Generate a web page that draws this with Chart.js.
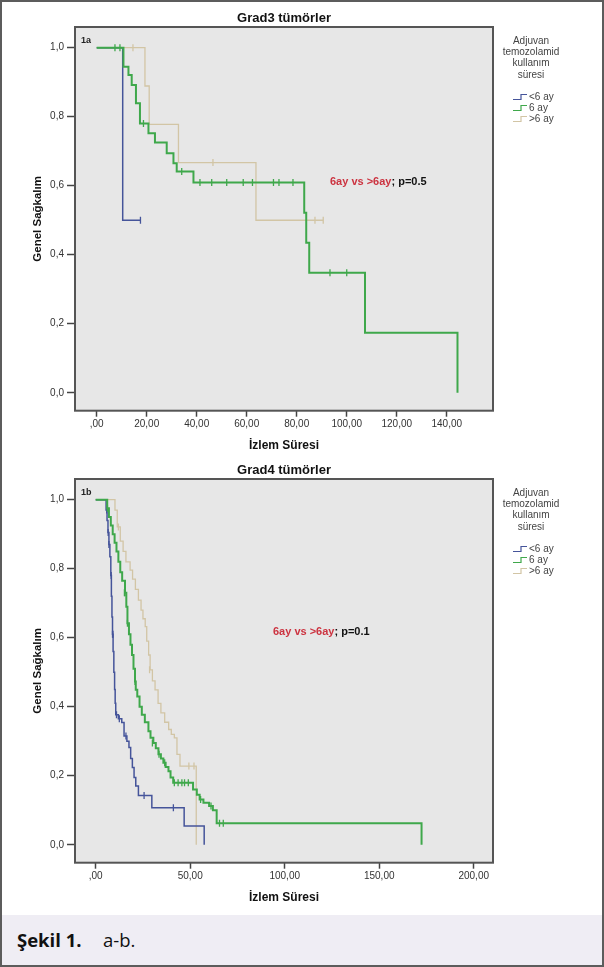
<!DOCTYPE html>
<html><head><meta charset="utf-8">
<script src="https://cdn.jsdelivr.net/npm/chart.js@4/dist/chart.umd.min.js"></script>
<style>
html,body{margin:0;padding:0;background:#fff;}
#wrap{position:relative;width:604px;height:967px;overflow:hidden;font-family:"Liberation Sans",Arial,sans-serif;}
canvas{position:absolute;left:0;}
#c1{top:0;}
#c2{top:452px;}
.legend{position:absolute;left:490px;width:114px;font-size:10px;color:#444;}
.legend .tl{position:absolute;text-align:center;left:-1px;width:84px;line-height:11.5px;white-space:nowrap;}
.legend .it{position:absolute;left:23px;line-height:11px;white-space:nowrap;}
.legend .it svg{vertical-align:middle;margin-right:2px;}
#caption{position:absolute;left:0;top:915px;width:604px;height:52px;background:#efedf4;}
#caption span{position:absolute;top:13px;font-family:"Open Sans",sans-serif;font-size:18.5px;color:#111;line-height:24px;}
#border{position:absolute;left:0;top:0;width:604px;height:967px;box-sizing:border-box;border:2px solid #5c5c5c;pointer-events:none;}
</style></head>
<body>
<div id="wrap">
<canvas id="c1" width="604" height="452"></canvas>
<canvas id="c2" width="604" height="452"></canvas>
<div class="legend" id="lg1" style="top:0px"></div>
<div class="legend" id="lg2" style="top:452px"></div>
<div id="caption"><span style="left:17px;font-weight:bold">Şekil 1.</span><span style="left:103px">a-b.</span></div>
<div id="border"></div>
</div>
<script>
// ---------- data ----------
const seriesNames = ['<6 ay', '6 ay', '>6 ay'];
const legendTitle = ['Adjuvan', 'temozolamid', 'kullanım', 'süresi'];
const yTicks = [0, 0.2, 0.4, 0.6, 0.8, 1.0];
const yTickLabels = ['0,0', '0,2', '0,4', '0,6', '0,8', '1,0'];

// Grad3
const g3Ticks = [0, 20, 40, 60, 80, 100, 120, 140];
const g3TickLabels = [',00', '20,00', '40,00', '60,00', '80,00', '100,00', '120,00', '140,00'];
const g3LtTime = [0, 10.4, 17.5];
const g3LtSurv = [1, 0.5, 0.5];
const g3LtCensTime = [17.5];
const g3LtCensSurv = [0.5];
const g3SixTime = [0, 10.7, 12.7, 14, 15.7, 17.3, 20.7, 23.3, 28, 30.7, 32, 38.7, 83, 83.8, 85, 107.3, 144.3];
const g3SixSurv = [1, 0.945, 0.921, 0.892, 0.839, 0.78, 0.752, 0.725, 0.694, 0.665, 0.641, 0.609, 0.522, 0.435, 0.348, 0.174, 0];
const g3SixCensTime = [7.3, 9.3, 18.7, 34, 41.3, 46, 52, 58.6, 62.3, 70.7, 72.9, 78.5, 93.3, 100];
const g3SixCensSurv = [1, 1, 0.78, 0.641, 0.609, 0.609, 0.609, 0.609, 0.609, 0.609, 0.609, 0.609, 0.348, 0.348];
const g3GtTime = [0, 19.3, 21, 32.7, 63.7, 90.6];
const g3GtSurv = [1, 0.889, 0.778, 0.667, 0.5, 0.5];
const g3GtCensTime = [14.5, 46.5, 87.3, 90.6];
const g3GtCensSurv = [1, 0.667, 0.5, 0.5];

// Grad4
const g4Ticks = [0, 50, 100, 150, 200];
const g4TickLabels = [',00', '50,00', '100,00', '150,00', '200,00'];
const g4LtTime = [0, 5.5, 6, 6.5, 7, 7.5, 8, 8.3, 8.6, 8.9, 9.2, 9.6, 10, 10.3, 10.6, 12, 13.8, 15, 16.5, 17.6, 18.5, 19.4, 20.3, 21.2, 22.6, 29.7, 46.8, 57.4];
const g4LtSurv = [1, 0.97, 0.94, 0.905, 0.87, 0.835, 0.78, 0.72, 0.66, 0.61, 0.56, 0.5, 0.45, 0.41, 0.377, 0.365, 0.354, 0.315, 0.3, 0.282, 0.25, 0.224, 0.195, 0.17, 0.143, 0.107, 0.054, 0];
const g4LtCensTime = [5.8, 6.6, 7.0, 8.2, 8.9, 9.1, 11, 12.5, 16, 25.6, 41.1];
const g4LtCensSurv = [0.97, 0.905, 0.87, 0.78, 0.61, 0.61, 0.377, 0.365, 0.315, 0.143, 0.107];
const g4SixTime = [0, 6.1, 7, 8, 9, 10, 11, 12, 13, 14, 15.5, 16.2, 16.8, 17.6, 18.4, 19.2, 20, 20.8, 21.2, 22, 23.2, 24.4, 26, 27.9, 29, 30.5, 31.8, 33.2, 34.5, 35.8, 37, 38.5, 39.6, 41, 51.5, 53.5, 55, 57, 60, 62, 64, 172.4];
const g4SixSurv = [1, 0.975, 0.95, 0.925, 0.9, 0.875, 0.85, 0.82, 0.79, 0.765, 0.73, 0.69, 0.642, 0.61, 0.58, 0.55, 0.51, 0.473, 0.449, 0.43, 0.4, 0.377, 0.355, 0.329, 0.31, 0.295, 0.28, 0.262, 0.25, 0.238, 0.225, 0.213, 0.195, 0.18, 0.16, 0.145, 0.131, 0.122, 0.112, 0.1, 0.062, 0];
const g4SixCensTime = [6.2, 15.2, 15.5, 16.8, 20.8, 30, 33.5, 36.5, 41.6, 43.6, 45.6, 47, 49, 55.5, 61, 65.5, 67.5];
const g4SixCensSurv = [0.975, 0.73, 0.73, 0.642, 0.473, 0.295, 0.262, 0.238, 0.18, 0.18, 0.18, 0.18, 0.18, 0.131, 0.112, 0.062, 0.062];
const g4GtTime = [0, 10.2, 11.4, 13, 14.5, 16, 18.2, 19.5, 21, 22.6, 24, 25, 26.2, 27, 28, 28.8, 30, 31.4, 33, 34.5, 36.5, 38.6, 40, 41.6, 43, 44.6, 53.2];
const g4GtSurv = [1, 0.97, 0.921, 0.88, 0.85, 0.82, 0.796, 0.77, 0.74, 0.709, 0.68, 0.655, 0.632, 0.59, 0.55, 0.507, 0.475, 0.449, 0.41, 0.382, 0.355, 0.334, 0.32, 0.31, 0.262, 0.228, 0];
const g4GtCensTime = [12, 28.5, 49.3, 52];
const g4GtCensSurv = [0.921, 0.507, 0.228, 0.228];

// ---------- style ----------
const FONT = '"Liberation Sans", Arial, sans-serif';
const seriesColors = ['#45549a', '#3fa84b', '#d2c5a5'];
const seriesWidths = [1.5, 2, 1.3];
const seriesOrder = [1, 0, 2];

function pts(t, s) { return t.map((v, i) => ({ x: v, y: s[i] })); }

function buildLegend(id) {
  const el = document.getElementById(id);
  let h = '';
  const tY = [34.5, 46, 57, 68.5];
  legendTitle.forEach((t, i) => { h += '<div class="tl" style="top:' + tY[i] + 'px">' + t + '</div>'; });
  const iY = [91, 102, 113];
  seriesNames.forEach((n, i) => {
    const c = seriesColors[i];
    h += '<div class="it" style="top:' + iY[i] + 'px"><svg width="14" height="8"><polyline points="0,6.5 8,6.5 8,1.5 14,1.5" fill="none" stroke="' + c + '" stroke-width="1.2"/></svg>' +
      n.replace('<', '&lt;').replace('>', '&gt;') + '</div>';
  });
  el.innerHTML = h;
}

function makeChart(id, p) {
  const datasets = [];
  for (let i = 0; i < 3; i++) {
    datasets.push({
      label: seriesNames[i], data: pts(p.t[i], p.s[i]), borderColor: seriesColors[i],
      borderWidth: seriesWidths[i], stepped: 'before', pointRadius: 0, fill: false, order: seriesOrder[i]
    });
    datasets.push({
      label: seriesNames[i] + ' censored', data: pts(p.ct[i], p.cs[i]), showLine: false,
      pointStyle: 'line', rotation: 90, pointRadius: 3.5, pointBorderColor: seriesColors[i],
      pointBorderWidth: 1.3, borderColor: seriesColors[i], order: seriesOrder[i]
    });
  }
  const framePlugin = {
    id: 'frame',
    beforeDatasetsDraw(chart) {
      const { ctx, chartArea: a } = chart;
      ctx.save(); ctx.fillStyle = '#e7e7e7'; ctx.fillRect(a.left, a.top, a.width, a.height); ctx.restore();
    },
    afterDraw(chart) {
      const { ctx, chartArea: a } = chart;
      ctx.save();
      ctx.strokeStyle = '#555'; ctx.lineWidth = 2;
      ctx.strokeRect(a.left, a.top, a.width, a.height);
      ctx.font = 'bold 9px ' + FONT; ctx.fillStyle = '#222'; ctx.textBaseline = 'middle'; ctx.textAlign = 'left';
      ctx.fillText(p.panel, a.left + 6, a.top + 14);
      const x = chart.scales.x.getPixelForValue(p.ann.x), y = chart.scales.y.getPixelForValue(p.ann.y);
      ctx.font = 'bold 11px ' + FONT;
      ctx.fillStyle = '#cc3340'; ctx.fillText(p.ann.red, x, y);
      const w = ctx.measureText(p.ann.red).width;
      ctx.fillStyle = '#111'; ctx.fillText(p.ann.black, x + w, y);
      ctx.restore();
    }
  };
  return new Chart(document.getElementById(id), {
    type: 'line',
    data: { datasets },
    plugins: [framePlugin],
    options: {
      responsive: false, animation: false, events: [],
      layout: { padding: { left: 0, right: 111, top: 0, bottom: 0 } },
      plugins: {
        legend: { display: false }, tooltip: { enabled: false },
        title: { display: true, text: p.title, fullSize: false, color: '#111',
          font: { family: FONT, size: 13, weight: 'bold', lineHeight: 1.2 }, padding: { top: 11, bottom: 0.4 } }
      },
      scales: {
        x: {
          type: 'linear', min: p.xmin, max: p.xmax,
          afterBuildTicks: s => { s.ticks = p.xticks.map(v => ({ value: v })); },
          afterFit: s => { s.height = 41.3; },
          ticks: { callback: v => p.xlabels[p.xticks.indexOf(v)], font: { family: FONT, size: 10 }, color: '#333', padding: 2, maxRotation: 0, autoSkip: false },
          grid: { display: true, drawOnChartArea: false, drawTicks: true, tickLength: 6, tickColor: '#444', tickWidth: 1.5 },
          border: { display: false },
          title: { display: true, text: 'İzlem Süresi', color: '#111', font: { family: FONT, size: 12, weight: 'bold', lineHeight: 1 }, padding: { top: 0, bottom: 0 } }
        },
        y: {
          type: 'linear', min: -0.052, max: 1.06,
          afterBuildTicks: s => { s.ticks = yTicks.map(v => ({ value: v })); },
          afterFit: s => { s.width = 75; },
          ticks: { callback: v => yTickLabels[yTicks.indexOf(Math.round(v * 10) / 10)], font: { family: FONT, size: 10 }, color: '#333', padding: 3, autoSkip: false },
          grid: { display: true, drawOnChartArea: false, drawTicks: true, tickLength: 8, tickColor: '#444', tickWidth: 1.5 },
          border: { display: false },
          title: { display: true, text: 'Genel Sağkalım', color: '#111', font: { family: FONT, size: 11.5, weight: 'bold', lineHeight: 1 }, padding: { top: 31.75, bottom: 0 } }
        }
      }
    }
  });
}

makeChart('c1', {
  title: 'Grad3 tümörler', panel: '1a', xmin: -8.68, xmax: 158.5, xticks: g3Ticks, xlabels: g3TickLabels,
  t: [g3LtTime, g3SixTime, g3GtTime], s: [g3LtSurv, g3SixSurv, g3GtSurv],
  ct: [g3LtCensTime, g3SixCensTime, g3GtCensTime], cs: [g3LtCensSurv, g3SixCensSurv, g3GtCensSurv],
  ann: { x: 93.3, y: 0.611, red: '6ay vs >6ay', black: '; p=0.5' }
});
makeChart('c2', {
  title: 'Grad4 tümörler', panel: '1b', xmin: -10.95, xmax: 210.2, xticks: g4Ticks, xlabels: g4TickLabels,
  t: [g4LtTime, g4SixTime, g4GtTime], s: [g4LtSurv, g4SixSurv, g4GtSurv],
  ct: [g4LtCensTime, g4SixCensTime, g4GtCensTime], cs: [g4LtCensSurv, g4SixCensSurv, g4GtCensSurv],
  ann: { x: 93.8, y: 0.617, red: '6ay vs >6ay', black: '; p=0.1' }
});
buildLegend('lg1');
buildLegend('lg2');
</script>
</body></html>
